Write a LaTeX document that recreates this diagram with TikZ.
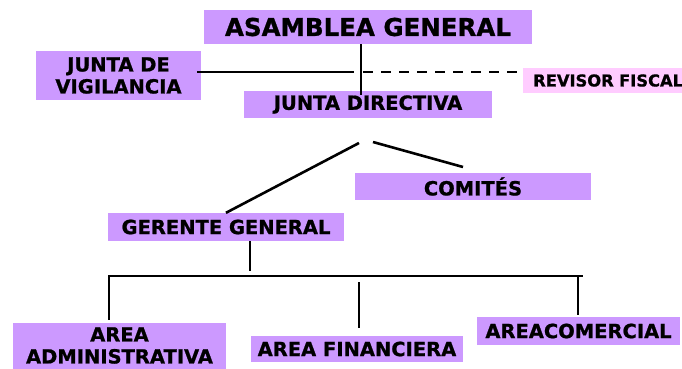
\documentclass[tikz,border=0pt]{standalone}
\usepackage{fontspec}
\setmainfont{DejaVu Sans}[BoldFeatures={FakeBold=1}]
\definecolor{lila}{HTML}{CC99FF}
\definecolor{rosa}{HTML}{FFCCFF}
\begin{document}
\begin{tikzpicture}[x=1pt,y=-1pt,
  box/.style={fill=lila, inner sep=0pt, align=center,
    font=\fontsize{19.5}{22}\selectfont\bfseries},
  ln/.style={line width=2.6pt, black}]
\useasboundingbox (0,0) rectangle (682,368);
% boxes
\node[box, minimum width=328pt, minimum height=34pt, font=\fontsize{24.5}{28}\selectfont\bfseries] (asam) at (368,27) {ASAMBLEA GENERAL};
\node[box, minimum width=165pt, minimum height=49pt] (vig) at (118.5,75.5) {JUNTA DE\\VIGILANCIA};
\node[box, minimum width=248pt, minimum height=27pt] (dir) at (368,104.5) {JUNTA DIRECTIVA};
\node[box, fill=rosa, anchor=west, text width=160pt, align=left, inner xsep=10pt, minimum height=25pt, font=\fontsize{16.3}{19}\selectfont\bfseries] (rev) at (523,80.5) {REVISOR FISCAL};
\node[box, minimum width=236pt, minimum height=27pt] (com) at (473,186.5) {COMITÉS};
\node[box, minimum width=236pt, minimum height=28pt] (ger) at (226,227) {GERENTE GENERAL};
\node[box, minimum width=213pt, minimum height=46pt] (adm) at (119.5,345.5) {AREA\\ADMINISTRATIVA};
\node[box, minimum width=212pt, minimum height=26pt] (fin) at (357,349) {AREA FINANCIERA};
\node[box, minimum width=203pt, minimum height=28pt] (comc) at (578.5,331) {AREACOMERCIAL};
% helper coordinates
\coordinate (j) at (361,72);
\coordinate (js) at (354,72);
\coordinate (jd) at (363,72);
\coordinate (dA) at (359,143);
\coordinate (dB) at (373,142);
\coordinate (cA) at (463,167);
\coordinate (gv) at (250,271);
\coordinate (busL) at (110,276);
\coordinate (busR) at (583,276);
\coordinate (v1) at (109,275);
\coordinate (v2) at (359,282);
\coordinate (v3) at (578,276);
% connectors
\draw[ln] (asam.south -| j) -- ([yshift=-4pt]dir.north -| j);
\draw[ln] ([xshift=-4pt]vig.east |- js) -- (js);
\draw[ln, dash pattern=on 10pt off 8pt] (jd) -- (rev.west |- jd);
\draw[ln] (dA) -- (ger.north);
\draw[ln] (dB) -- (cA);
\draw[ln] (ger.south -| gv) -- (gv);
\draw[ln] (busL) -- (busR);
\draw[ln] (v1) -- ([yshift=2pt]adm.north -| v1);
\draw[ln] (v2) -- (v2 |- 0,328);
\draw[ln] (v3) -- ([yshift=2pt]comc.north -| v3);
\end{tikzpicture}
\end{document}
